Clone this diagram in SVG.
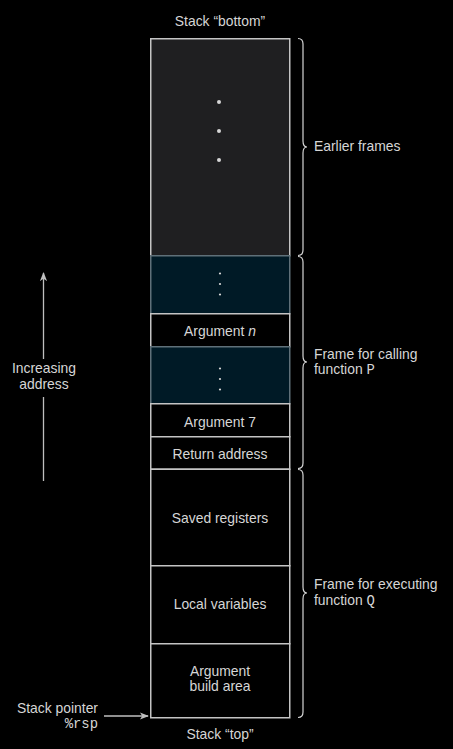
<svg xmlns="http://www.w3.org/2000/svg" width="453" height="749" viewBox="0 0 453 749">
<defs>
<style>
text{font-family:"Liberation Sans",Arial,sans-serif;font-size:13.9px;fill:#d6d6d6}
.c{text-anchor:middle}
.r{text-anchor:end}
.m{font-family:"Liberation Mono","DejaVu Sans Mono",monospace}
.cell{stroke:#c4c4c4;stroke-width:1.5}
.brace{fill:none;stroke:#d6d6d6;stroke-width:1.2}
.dot{fill:#d6d6d6}
.line{stroke:#bfbfbf;stroke-width:1.3;fill:none}
</style>
<marker id="ah" viewBox="0 0 10 10" refX="9" refY="5" markerWidth="9" markerHeight="9" markerUnits="userSpaceOnUse" orient="auto">
<path d="M0,1 L10,5 L0,9 L2.5,5 Z" fill="#bfbfbf"/>
</marker>
</defs>
<rect width="453" height="749" fill="#000"/>
<text class="c" x="220" y="26">Stack “bottom”</text>
<text class="c" x="220" y="739">Stack “top”</text>
<g id="earlier">
<rect class="cell" x="150.75" y="38.75" width="139" height="217" fill="#1f1f21"/>
<circle class="dot" cx="219" cy="102" r="2"/>
<circle class="dot" cx="219" cy="131" r="2"/>
<circle class="dot" cx="219" cy="160" r="2"/>
</g>
<g id="dots1">
<rect x="150.75" y="255.75" width="139" height="58" fill="#001a26" stroke="#5f7079" stroke-width="1.5"/>
<circle class="dot" cx="220" cy="273.5" r="1.1"/>
<circle class="dot" cx="220" cy="284" r="1.1"/>
<circle class="dot" cx="220" cy="294.5" r="1.1"/>
</g>
<g id="argn">
<rect class="cell" x="150.75" y="313.75" width="139" height="33" fill="#000"/>
<text class="c" x="220" y="336">Argument <tspan font-style="italic">n</tspan></text>
</g>
<g id="dots2">
<rect x="150.75" y="346.75" width="139" height="57" fill="#001a26" stroke="#5f7079" stroke-width="1.5"/>
<circle class="dot" cx="220" cy="368.5" r="1.1"/>
<circle class="dot" cx="220" cy="379" r="1.1"/>
<circle class="dot" cx="220" cy="389.5" r="1.1"/>
</g>
<g id="arg7">
<rect class="cell" x="150.75" y="403.75" width="139" height="33" fill="#000"/>
<text class="c" x="220" y="427">Argument 7</text>
</g>
<g id="ret">
<rect class="cell" x="150.75" y="436.75" width="139" height="32.5" fill="#000"/>
<text class="c" x="220" y="459">Return address</text>
</g>
<g id="saved">
<rect class="cell" x="150.75" y="469.25" width="139" height="96.5" fill="#000"/>
<text class="c" x="220" y="523">Saved registers</text>
</g>
<g id="locals">
<rect class="cell" x="150.75" y="565.75" width="139" height="78" fill="#000"/>
<text class="c" x="220" y="609">Local variables</text>
</g>
<g id="argbuild">
<rect class="cell" x="150.75" y="643.75" width="139" height="74" fill="#000"/>
<text class="c" x="220" y="676">Argument</text>
<text class="c" x="220" y="691">build area</text>
</g>
<g id="braces">
<path class="brace" d="M298,38.5 Q303,38.5 303,44 L303,141 Q303,147 307,147 Q303,147 303,153 L303,250 Q303,255.5 298,255.5"/>
<path class="brace" d="M298,256.5 Q303,256.5 303,262 L303,356 Q303,362 307,362 Q303,362 303,368 L303,463 Q303,468.5 298,468.5"/>
<path class="brace" d="M298,469.5 Q303,469.5 303,475 L303,587 Q303,593 307,593 Q303,593 303,599 L303,712 Q303,717.5 298,717.5"/>
</g>
<g id="labels">
<text x="314" y="151">Earlier frames</text>
<text x="314" y="359">Frame for calling</text>
<text x="314" y="374">function <tspan class="m">P</tspan></text>
<text x="314" y="589">Frame for executing</text>
<text x="314" y="605">function <tspan class="m">Q</tspan></text>
</g>
<g id="connectors">
<line class="line" x1="43.5" y1="481" x2="43.5" y2="397"/>
<line class="line" x1="43.5" y1="359" x2="43.5" y2="273" marker-end="url(#ah)"/>
<line class="line" x1="104" y1="716" x2="148" y2="716" marker-end="url(#ah)"/>
</g>
<g id="notes">
<text class="c" x="44" y="373">Increasing</text>
<text class="c" x="44" y="389">address</text>
<text class="r" x="98" y="713">Stack pointer</text>
<text class="r m" x="98" y="728">%rsp</text>
</g>
</svg>
